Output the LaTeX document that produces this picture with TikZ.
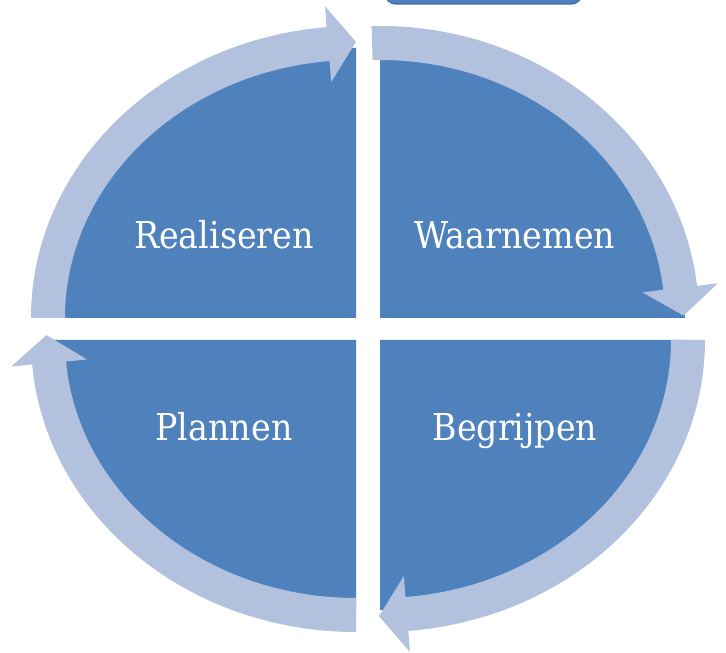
\documentclass[tikz,border=0pt]{standalone}
\usepackage{fontspec}
\setmainfont{DejaVu Serif Condensed}
\definecolor{qblue}{RGB}{79,129,189}
\definecolor{ring}{RGB}{178,193,221}
\definecolor{qedge}{RGB}{66,112,168}
\tikzset{
  quad/.style={fill=qblue},
  band/.style={fill=ring},
  lbl/.style={text=white,font=\fontsize{37}{44}\selectfont,anchor=base,inner sep=0pt},
  topbox/.style={fill=qblue,draw=qedge,line width=1.5pt,rounded corners=11pt}
}
% #1 cx, #2 cy, #3 start angle, #4 end angle, #5 Rx (centre line), #6 Ry (centre line)
\newcommand\cycarc[6]{%
  \pgfmathsetmacro\ao{#5+17}\pgfmathsetmacro\bo{#6+17}%
  \pgfmathsetmacro\ai{#5-17}\pgfmathsetmacro\bi{#6-17}%
  \pgfmathsetmacro\sox{#1+\ao*cos(#3)}\pgfmathsetmacro\soy{#2+\bo*sin(#3)}%
  \pgfmathsetmacro\iex{#1+\ai*cos(#4)}\pgfmathsetmacro\iey{#2+\bi*sin(#4)}%
  \pgfmathsetmacro\px{#1+#5*cos(#4)}\pgfmathsetmacro\py{#2+#6*sin(#4)}%
  \pgfmathsetmacro\tx{#5/100*sin(#4)}\pgfmathsetmacro\ty{-#6/100*cos(#4)}%
  \pgfmathsetmacro\tn{sqrt(\tx*\tx+\ty*\ty)}%
  \pgfmathsetmacro\nx{#6/100*cos(#4)}\pgfmathsetmacro\ny{#5/100*sin(#4)}%
  \pgfmathsetmacro\nn{sqrt(\nx*\nx+\ny*\ny)}%
  \pgfmathsetmacro\bax{\px+38*\nx/\nn}\pgfmathsetmacro\bay{\py+38*\ny/\nn}%
  \pgfmathsetmacro\bbx{\px-38*\nx/\nn}\pgfmathsetmacro\bby{\py-38*\ny/\nn}%
  \pgfmathsetmacro\tipx{\px+28*\tx/\tn}\pgfmathsetmacro\tipy{\py+28*\ty/\tn}%
  \fill[band] (\sox,\soy) arc[start angle=#3,end angle=#4,x radius=\ao pt,y radius=\bo pt]
    -- (\bax,\bay) -- (\tipx,\tipy) -- (\bbx,\bby) -- (\iex,\iey)
    arc[start angle=#4,end angle=#3,x radius=\ai pt,y radius=\bi pt] -- cycle;%
}
\begin{document}
\begin{tikzpicture}[x=1pt,y=1pt]
\useasboundingbox (0,0) rectangle (726,653);
\clip (0,0) rectangle (726,653);
\fill[white] (0,0) rectangle (726,653);
% partial box at top
\draw[topbox] (385,649) rectangle (582,690);
% quadrants
\fill[quad] (356,335) -- (51,335) arc[start angle=180,end angle=90,x radius=305pt,y radius=270pt] -- cycle;
\fill[quad] (380,335) -- (380,605) arc[start angle=90,end angle=0,x radius=305pt,y radius=270pt] -- cycle;
\fill[quad] (380,313) -- (685,313) arc[start angle=0,end angle=-90,x radius=305pt,y radius=270pt] -- cycle;
\fill[quad] (356,313) -- (356,43) arc[start angle=270,end angle=180,x radius=305pt,y radius=270pt] -- cycle;
% ring arrows
\cycarc{356}{335}{180}{95.2}{308}{275}
\cycarc{380}{335}{91.5}{6.3}{302}{275}
\cycarc{380}{313}{0}{-85}{308}{275}
\cycarc{356}{313}{270}{184.8}{308}{275}
% labels
\node[lbl] (real) at (224,404) {Realiseren};
\node[lbl] (waar) at (515,404) {Waarnemen};
\node[lbl] (plan) at (224,212) {Plannen};
\node[lbl] (begr) at (515,212) {Begrijpen};
\end{tikzpicture}
\end{document}
